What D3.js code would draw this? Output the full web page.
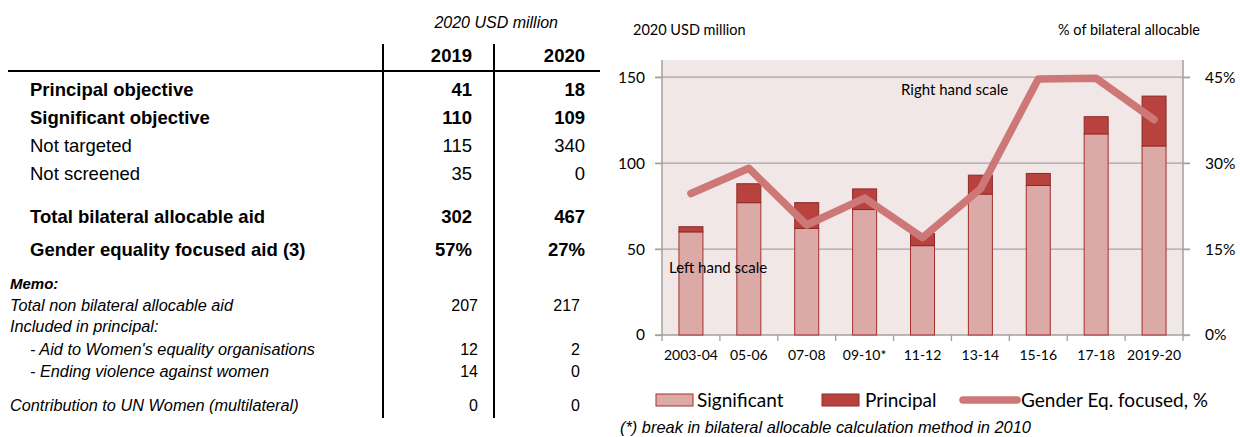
<!DOCTYPE html>
<html>
<head>
<meta charset="utf-8">
<script src="https://cdnjs.cloudflare.com/ajax/libs/d3/7.8.5/d3.min.js"></script>
<style>
  body { margin: 0; background: #fff; }
  svg { display: block; }
</style>
</head>
<body>
<div id="chart-area"></div>
<script>
// ---- table data ----
var rowLabels = ["Principal objective", "Significant objective", "Not targeted", "Not screened",
                 "Total bilateral allocable aid", "Gender equality focused aid (3)"];
var rows2019 = ["41", "110", "115", "35", "302", "57%"];
var rows2020 = ["18", "109", "340", "0", "467", "27%"];
var rowBold = [true, true, false, false, true, true];

var memoLabels = ["Total non bilateral allocable aid", "Included in principal:",
                  "- Aid to Women's equality organisations", "- Ending violence against women",
                  "Contribution to UN Women (multilateral)"];
var memoIndent = [0, 0, 1, 1, 0];
var memo2019 = ["207", "", "12", "14", "0"];
var memo2020 = ["217", "", "2", "0", "0"];

// ---- chart data ----
var categories = ["2003-04", "05-06", "07-08", "09-10*", "11-12", "13-14", "15-16", "17-18", "2019-20"];
var significant = [60, 77, 62, 73, 52, 82, 87, 117, 110];
var principal = [3, 11, 15, 12, 7, 11, 7, 10, 29];
var genderPct = [24.7, 29.1, 19.2, 23.9, 17.0, 25.5, 44.7, 44.8, 37.6];
var leftTicks = [0, 50, 100, 150];
var rightTicks = [0, 15, 30, 45];

var svg = d3.select("#chart-area").append("svg")
    .attr("width", 1240)
    .attr("height", 437);

// ================= table =================
var tbl = svg.append("g").attr("font-family", "Liberation Sans, Arial, sans-serif");
var col1 = 472, col2 = 585;

tbl.append("text").attr("x", 558).attr("y", 28).attr("text-anchor", "end")
    .attr("font-size", 16).attr("font-style", "italic").text("2020 USD million");

[383, 494].forEach(function(x) {
  tbl.append("line").attr("x1", x).attr("x2", x).attr("y1", 44).attr("y2", 418)
      .attr("stroke", "#000").attr("stroke-width", 2);
});
tbl.append("line").attr("x1", 8).attr("x2", 600).attr("y1", 71).attr("y2", 71)
    .attr("stroke", "#000").attr("stroke-width", 2);

tbl.append("text").attr("x", col1).attr("y", 62).attr("text-anchor", "end")
    .attr("font-size", 18.5).attr("font-weight", "bold").text("2019");
tbl.append("text").attr("x", col2).attr("y", 62).attr("text-anchor", "end")
    .attr("font-size", 18.5).attr("font-weight", "bold").text("2020");

var rowY = [96, 124, 152, 180, 223, 256];
rowLabels.forEach(function(lab, i) {
  var w = rowBold[i] ? "bold" : "normal";
  tbl.append("text").attr("x", 30).attr("y", rowY[i]).attr("font-size", 18.5)
      .attr("font-weight", w).text(lab);
  tbl.append("text").attr("x", col1).attr("y", rowY[i]).attr("font-size", 18.5)
      .attr("text-anchor", "end").attr("font-weight", w).text(rows2019[i]);
  tbl.append("text").attr("x", col2).attr("y", rowY[i]).attr("font-size", 18.5)
      .attr("text-anchor", "end").attr("font-weight", w).text(rows2020[i]);
});

tbl.append("text").attr("x", 10).attr("y", 289).attr("font-size", 15)
    .attr("font-weight", "bold").attr("font-style", "italic").text("Memo:");
var memoY = [311, 332, 355, 377, 411];
memoLabels.forEach(function(lab, i) {
  tbl.append("text").attr("x", 10 + memoIndent[i] * 20).attr("y", memoY[i]).attr("font-size", 16.3)
      .attr("font-style", "italic").text(lab);
  tbl.append("text").attr("x", 478).attr("y", memoY[i]).attr("font-size", 16)
      .attr("text-anchor", "end").text(memo2019[i]);
  tbl.append("text").attr("x", 580).attr("y", memoY[i]).attr("font-size", 16)
      .attr("text-anchor", "end").text(memo2020[i]);
});

// ================= chart =================
var plot = { left: 662, right: 1183, top: 60, bottom: 335 };
var chartFont = "Lato, Open Sans, sans-serif";

var x = d3.scaleBand().domain(categories).range([plot.left, plot.right]).paddingInner(0).paddingOuter(0);
var y = d3.scaleLinear().domain([0, 160]).range([plot.bottom, plot.top]);
var y2 = d3.scaleLinear().domain([0, 48]).range([plot.bottom, plot.top]);

var g = svg.append("g").attr("font-family", chartFont);

g.append("text").attr("x", 633).attr("y", 35).attr("font-size", 14.5).text("2020 USD million");
g.append("text").attr("x", 1200).attr("y", 35).attr("font-size", 14.5).attr("text-anchor", "end")
    .text("% of bilateral allocable");

g.append("rect").attr("x", plot.left).attr("y", plot.top)
    .attr("width", plot.right - plot.left).attr("height", plot.bottom - plot.top)
    .attr("fill", "#f2e7e7");

// gridlines with outer ticks on both sides
g.selectAll(".grid").data(leftTicks.slice(1)).enter().append("line")
    .attr("class", "grid")
    .attr("x1", plot.left - 7).attr("x2", plot.right + 7)
    .attr("y1", function(d) { return y(d); }).attr("y2", function(d) { return y(d); })
    .attr("stroke", "#a5a5a5").attr("stroke-width", 1.3);

// axes
var yAxisCall = d3.axisLeft(y).tickValues(leftTicks).tickSize(7).tickPadding(10);
var y2AxisCall = d3.axisRight(y2).tickValues(rightTicks).tickSize(7).tickPadding(15)
    .tickFormat(function(d) { return d + "%"; });
var xAxisCall = d3.axisBottom(x).tickSize(0).tickPadding(15);

var gl = g.append("g").attr("transform", "translate(" + plot.left + ",0)").call(yAxisCall);
var gr = g.append("g").attr("transform", "translate(" + plot.right + ",0)").call(y2AxisCall);
var gx = g.append("g").attr("transform", "translate(0," + plot.bottom + ")").call(xAxisCall);

[gl, gr, gx].forEach(function(ax) {
  ax.attr("font-family", chartFont);
  ax.select(".domain").attr("stroke", "#a0a0a0").attr("stroke-width", 1.5);
  ax.selectAll(".tick line").attr("stroke", "#a0a0a0").attr("stroke-width", 1.3);
  ax.selectAll(".tick text").attr("fill", "#000");
});
gl.selectAll(".tick text").attr("font-size", 15.5);
gr.selectAll(".tick text").attr("font-size", 15.5);
gx.selectAll(".tick text").attr("font-size", 14);
gl.select(".domain").attr("d", "M0," + plot.top + "V" + plot.bottom);
gr.select(".domain").attr("d", "M0," + plot.top + "V" + plot.bottom);
gx.select(".domain").attr("d", "M" + (plot.left - 7) + ",0H" + (plot.right + 7));

// category boundary ticks on x axis
var bounds = d3.range(categories.length + 1).map(function(i) { return plot.left + i * x.step(); });
g.selectAll(".xtick").data(bounds).enter().append("line")
    .attr("x1", function(d) { return d; }).attr("x2", function(d) { return d; })
    .attr("y1", plot.bottom).attr("y2", plot.bottom + 6)
    .attr("stroke", "#a0a0a0").attr("stroke-width", 1.3);

// stacked bars
var barW = 24;
var barData = categories.map(function(c, i) {
  return { cat: c, sig: significant[i], pri: principal[i] };
});

g.selectAll(".bar-sig").data(barData).enter().append("rect")
    .attr("class", "bar-sig")
    .attr("x", function(d) { return x(d.cat) + x.bandwidth() / 2 - barW / 2; })
    .attr("y", function(d) { return y(d.sig); })
    .attr("width", barW)
    .attr("height", function(d) { return y(0) - y(d.sig); })
    .attr("fill", "#dba9a6").attr("stroke", "#a3302e").attr("stroke-width", 1);

g.selectAll(".bar-pri").data(barData).enter().append("rect")
    .attr("class", "bar-pri")
    .attr("x", function(d) { return x(d.cat) + x.bandwidth() / 2 - barW / 2; })
    .attr("y", function(d) { return y(d.sig + d.pri); })
    .attr("width", barW)
    .attr("height", function(d) { return y(d.sig) - y(d.sig + d.pri); })
    .attr("fill", "#b8423e").attr("stroke", "#8e2a28").attr("stroke-width", 1);

// line
var line = d3.line()
    .x(function(d, i) { return x(categories[i]) + x.bandwidth() / 2; })
    .y(function(d) { return y2(d); });

g.append("path").datum(genderPct)
    .attr("d", line)
    .attr("fill", "none").attr("stroke", "#cd7877").attr("stroke-width", 7.5)
    .attr("stroke-linejoin", "round").attr("stroke-linecap", "round");

g.append("text").attr("x", 901).attr("y", 95).attr("font-size", 15).text("Right hand scale");
g.append("text").attr("x", 669).attr("y", 273).attr("font-size", 15).text("Left hand scale");

// legend
var leg = g.append("g").attr("font-size", 19);
leg.append("rect").attr("x", 656).attr("y", 394).attr("width", 37).attr("height", 12)
    .attr("fill", "#dba9a6").attr("stroke", "#a3302e");
leg.append("text").attr("x", 697).attr("y", 407).text("Significant");
leg.append("rect").attr("x", 822).attr("y", 394).attr("width", 37).attr("height", 12)
    .attr("fill", "#b8423e").attr("stroke", "#8e2a28");
leg.append("text").attr("x", 865).attr("y", 407).text("Principal");
leg.append("line").attr("x1", 963).attr("x2", 1017).attr("y1", 400).attr("y2", 400)
    .attr("stroke", "#cd7877").attr("stroke-width", 7.5).attr("stroke-linecap", "round");
leg.append("text").attr("x", 1021).attr("y", 407).text("Gender Eq. focused, %");

svg.append("text").attr("x", 620).attr("y", 433)
    .attr("font-family", "Liberation Sans, Arial, sans-serif").attr("font-size", 16.4)
    .attr("font-style", "italic").text("(*) break in bilateral allocable calculation method in 2010");
</script>
</body>
</html>
